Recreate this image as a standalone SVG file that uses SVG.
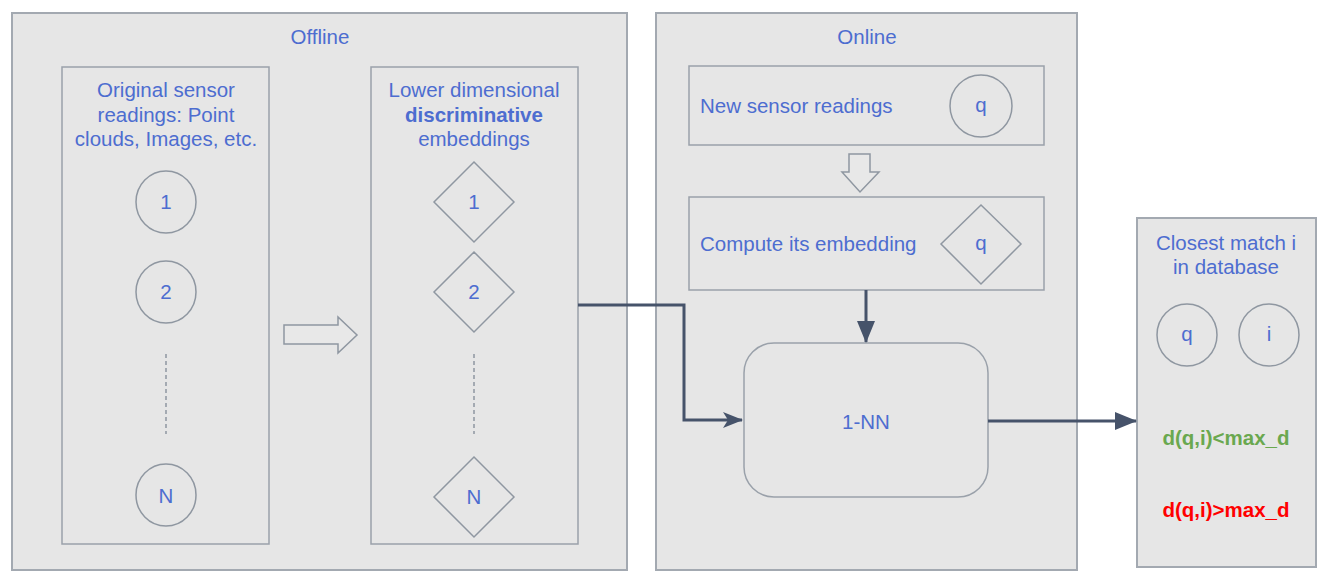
<svg xmlns="http://www.w3.org/2000/svg" width="1334" height="583" viewBox="0 0 1334 583">
<defs>
<style>
.box{fill:#e6e6e6;stroke:#a3a9b1;stroke-width:2}
.inner{fill:#e6e6e6;stroke:#9aa1aa;stroke-width:1.5}
.shape{fill:none;stroke:#8f97a1;stroke-width:1.5}
.t{font-family:"Liberation Sans",Arial,sans-serif;font-size:20.5px;fill:#4d6dd0}
.c{text-anchor:middle}
.dash{stroke:#8f97a1;stroke-width:1.5;stroke-dasharray:4 3}
.conn{fill:none;stroke:#46536a;stroke-width:3}
.hollow{fill:#e8e8e8;stroke:#8f97a1;stroke-width:1.5}
</style>
<marker id="open" viewBox="0 0 20 16" refX="19" refY="8" markerWidth="20" markerHeight="16" markerUnits="userSpaceOnUse" orient="auto">
<path d="M0,0 L20,8 L0,16 L5,8 Z" fill="#46536a"/>
</marker>
<marker id="block" viewBox="0 0 22 18" refX="21" refY="9" markerWidth="22" markerHeight="18" markerUnits="userSpaceOnUse" orient="auto">
<path d="M0,0 L22,9 L0,18 Z" fill="#46536a"/>
</marker>
</defs>
<rect width="1334" height="583" fill="#ffffff"/>

<g id="offline">
<rect class="box" x="12" y="13" width="615" height="557"/>
<text class="t c" x="320" y="44">Offline</text>
</g>

<g id="online">
<rect class="box" x="656" y="13" width="421" height="557"/>
<text class="t c" x="867" y="44">Online</text>
</g>

<g id="original">
<rect class="inner" x="62" y="67" width="207" height="477"/>
<text class="t c" x="166" y="97">Original sensor</text>
<text class="t c" x="166" y="122">readings: Point</text>
<text class="t c" x="166" y="146">clouds, Images, etc.</text>
<ellipse class="shape" cx="166" cy="202" rx="30" ry="31"/>
<text class="t c" x="166" y="209">1</text>
<ellipse class="shape" cx="166" cy="292" rx="30" ry="31"/>
<text class="t c" x="166" y="299">2</text>
<line class="dash" x1="166" y1="354" x2="166" y2="434"/>
<ellipse class="shape" cx="166" cy="495" rx="30" ry="31"/>
<text class="t c" x="166" y="503">N</text>
</g>

<g id="transform-arrow">
<path class="hollow" d="M284,325 L338,325 L338,317 L357,335 L338,353 L338,344 L284,344 Z"/>
</g>

<g id="embeddings">
<rect class="inner" x="371" y="67" width="207" height="477"/>
<text class="t c" x="474" y="97">Lower dimensional</text>
<text class="t c" x="474" y="122" font-weight="bold">discriminative</text>
<text class="t c" x="474" y="146">embeddings</text>
<path class="shape" d="M474,162 L514,202 L474,242 L434,202 Z"/>
<text class="t c" x="474" y="209">1</text>
<path class="shape" d="M474,252 L514,292 L474,332 L434,292 Z"/>
<text class="t c" x="474" y="299">2</text>
<line class="dash" x1="474" y1="354" x2="474" y2="434"/>
<path class="shape" d="M474,457 L514,497 L474,537 L434,497 Z"/>
<text class="t c" x="474" y="504">N</text>
</g>

<g id="new-readings">
<rect class="inner" x="689" y="66" width="355" height="79"/>
<text class="t" x="700" y="113">New sensor readings</text>
<ellipse class="shape" cx="981" cy="106" rx="31" ry="31"/>
<text class="t c" x="981" y="112">q</text>
</g>

<g id="down-arrow">
<path class="hollow" d="M849,154 L870,154 L870,172 L879,172 L860,192 L842,172 L849,172 Z"/>
</g>

<g id="compute">
<rect class="inner" x="689" y="197" width="355" height="93"/>
<text class="t" x="700" y="251">Compute its embedding</text>
<path class="shape" d="M981,205 L1021,244 L981,284 L941,244 Z"/>
<text class="t c" x="981" y="250">q</text>
</g>

<g id="nn">
<rect class="inner" x="744" y="343" width="244" height="154" rx="30" ry="30"/>
<text class="t c" x="866" y="429">1-NN</text>
</g>

<g id="closest">
<rect class="box" x="1137" y="218" width="179" height="349"/>
<text class="t c" x="1226" y="250">Closest match i</text>
<text class="t c" x="1226" y="274">in database</text>
<ellipse class="shape" cx="1187" cy="335" rx="30" ry="31"/>
<text class="t c" x="1187" y="341">q</text>
<ellipse class="shape" cx="1269" cy="335" rx="30" ry="31"/>
<text class="t c" x="1269" y="341">i</text>
<text class="t c" x="1226" y="445" font-weight="bold" style="fill:#6aa84f">d(q,i)&lt;max_d</text>
<text class="t c" x="1226" y="517" font-weight="bold" style="fill:#ff0000">d(q,i)&gt;max_d</text>
</g>

<g id="connectors">
<path class="conn" d="M578,305 L684,305 L684,420 L742,420" marker-end="url(#open)"/>
<path class="conn" d="M866,290 L866,342" marker-end="url(#block)"/>
<path class="conn" d="M988,421 L1136,421" marker-end="url(#block)"/>
</g>
</svg>
